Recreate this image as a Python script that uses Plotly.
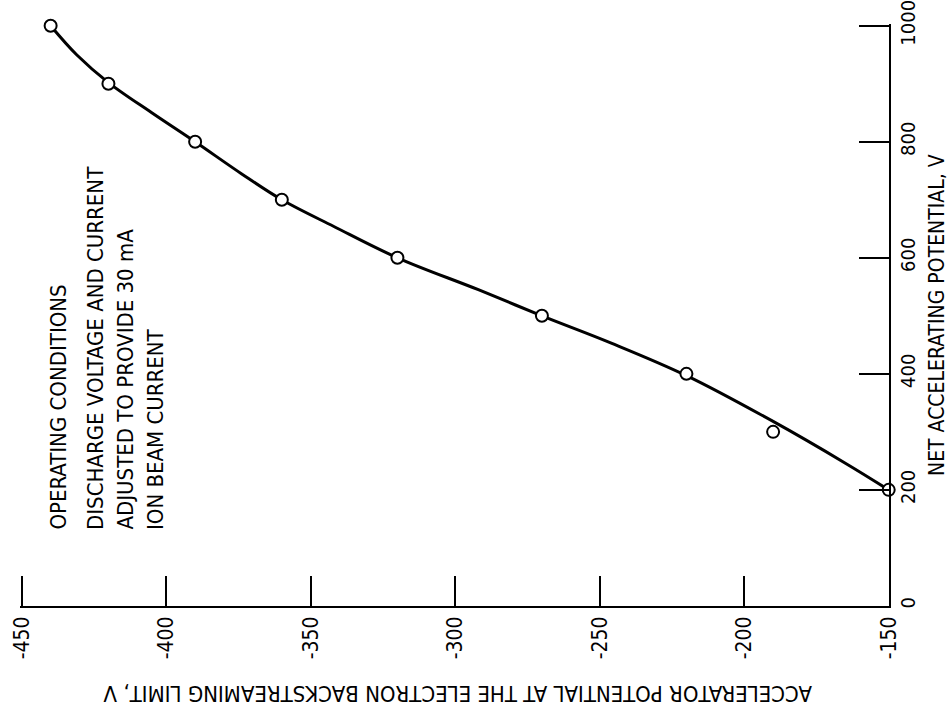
import plotly.graph_objects as go

# Measured data points (accelerator potential, net accelerating potential)
accel_potential = [-150, -190, -220, -270, -320, -360, -390, -420, -440]
net_potential = [200, 300, 400, 500, 600, 700, 800, 900, 1000]

# Faired curve
curve_accel = [-150, -165, -190, -220, -246, -270, -292, -320, -342, -360, -374, -390, -405, -420, -431, -440]
curve_net = [200, 246, 318, 397, 453, 500, 545, 600, 654, 700, 745, 800, 850, 902, 950, 1000]

x_ticks = [-450, -400, -350, -300, -250, -200, -150]
y_ticks = [0, 200, 400, 600, 800, 1000]

FONT = "Liberation Sans Narrow, DejaVu Sans Condensed, Roboto Condensed, Arial Narrow, sans-serif"

W, H = 952, 711
L, R, T, B = 20, 63, 24, 105
PW, PH = W - L - R, H - T - B


def px(xp):
    return (xp - L) / PW


def py(yp):
    return (H - B - yp) / PH


fig = go.Figure()
fig.add_trace(go.Scatter(
    x=curve_accel, y=curve_net, mode="lines",
    line=dict(color="black", width=3, shape="spline", smoothing=1.0),
    hoverinfo="skip", showlegend=False, cliponaxis=False,
))
fig.add_trace(go.Scatter(
    x=accel_potential, y=net_potential, mode="markers",
    marker=dict(symbol="circle", size=12, color="white",
                line=dict(color="black", width=2)),
    showlegend=False, cliponaxis=False,
))

fig.update_layout(
    width=W, height=H,
    margin=dict(l=L, r=R, t=T, b=B, pad=0, autoexpand=False),
    paper_bgcolor="white", plot_bgcolor="white",
    font=dict(family=FONT, color="black", size=20),
    xaxis=dict(
        range=[-450.6, -149.9], tickvals=x_ticks, ticktext=[str(v) for v in x_ticks],
        ticks="inside", ticklen=30, tickwidth=2, tickcolor="black",
        showline=True, linewidth=2, linecolor="black", mirror=False,
        showgrid=False, zeroline=False, tickangle=-90, automargin=False,
        tickfont=dict(family=FONT, size=21), ticklabeloverflow="allow",
    ),
    yaxis=dict(
        range=[-0.2, 1003], tickvals=y_ticks, ticktext=[str(v) for v in y_ticks],
        side="right", ticks="inside", ticklen=30, tickwidth=2, tickcolor="black",
        showline=True, linewidth=2, linecolor="black", mirror=False,
        showgrid=False, zeroline=False, tickangle=-90, automargin=False,
        tickfont=dict(family=FONT, size=20), ticklabeloverflow="allow",
    ),
)

annos = [
    dict(text="ACCELERATOR POTENTIAL AT THE ELECTRON BACKSTREAMING LIMIT, V",
         x=px(458), y=py(694), textangle=180, xanchor="center", yanchor="middle", size=22),
    dict(text="NET ACCELERATING POTENTIAL, V",
         x=px(937), y=py(315), textangle=-90, xanchor="center", yanchor="middle", size=21),
    dict(text="OPERATING CONDITIONS", x=px(58), y=py(532), textangle=-90,
         xanchor="center", yanchor="bottom", size=22),
    dict(text="DISCHARGE VOLTAGE AND CURRENT", x=px(95), y=py(532), textangle=-90,
         xanchor="center", yanchor="bottom", size=22),
    dict(text="ADJUSTED TO PROVIDE 30 mA", x=px(125), y=py(532), textangle=-90,
         xanchor="center", yanchor="bottom", size=22),
    dict(text="ION BEAM CURRENT", x=px(155), y=py(532), textangle=-90,
         xanchor="center", yanchor="bottom", size=22),
]
for a in annos:
    fig.add_annotation(
        text=a["text"], x=a["x"], y=a["y"], xref="paper", yref="paper",
        textangle=a["textangle"], xanchor=a["xanchor"], yanchor=a["yanchor"],
        showarrow=False, font=dict(family=FONT, size=a["size"], color="black"),
    )

fig.write_html("out.html")
